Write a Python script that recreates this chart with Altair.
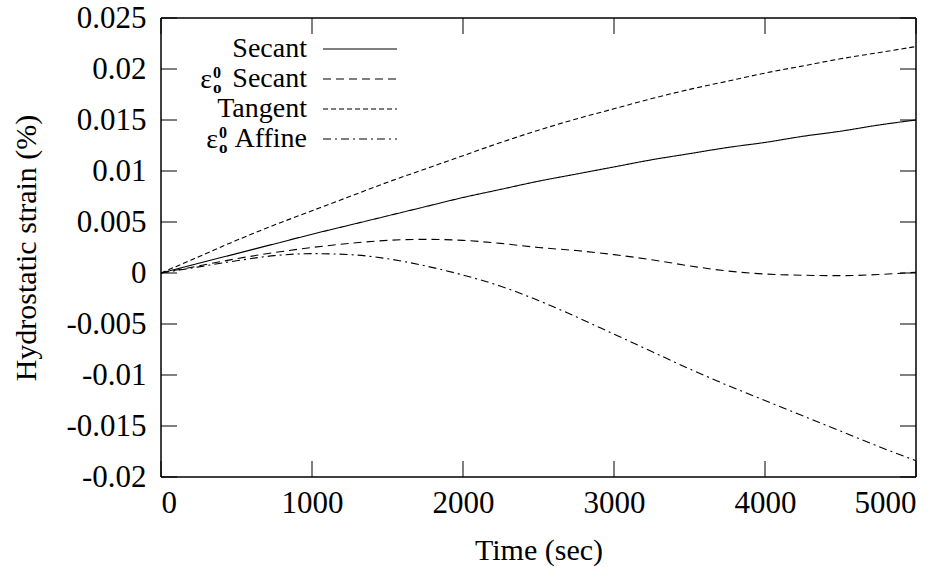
import altair as alt
import pandas as pd

# ---- data ----
time = [0, 250, 500, 750, 1000, 1250, 1500, 1750, 2000, 2250, 2500,
        2750, 3000, 3250, 3500, 3750, 4000, 4250, 4500, 4750, 5000]
secant = [0, 0.00095, 0.0019, 0.00285, 0.0038, 0.0047, 0.0056, 0.0065, 0.0074, 0.0082, 0.0090,
          0.0097, 0.0104, 0.0111, 0.0117, 0.0123, 0.0128, 0.0134, 0.0139, 0.0145, 0.0150]
eps_secant = [0, 0.0007, 0.0014, 0.0020, 0.0025, 0.0029, 0.0032, 0.0033, 0.0032, 0.0029, 0.0025,
              0.0022, 0.0018, 0.0013, 0.0007, 0.0002, -0.0001, -0.00022, -0.00026, -0.00015, 0.00007]
tangent = [0, 0.0016, 0.0032, 0.0047, 0.0061, 0.0075, 0.0089, 0.0102, 0.0115, 0.0128, 0.0140,
           0.0151, 0.0161, 0.0171, 0.0180, 0.0188, 0.0196, 0.0203, 0.0210, 0.0216, 0.0222]
eps_affine = [0, 0.0006, 0.0012, 0.0017, 0.0019, 0.0018, 0.0014, 0.0007, -0.0002, -0.0013, -0.0027,
              -0.0043, -0.0060, -0.0077, -0.0094, -0.0110, -0.0125, -0.0140, -0.0155, -0.0170, -0.0184]

series_names = ["Secant", "eps Secant", "Tangent", "eps Affine"]
series_values = [secant, eps_secant, tangent, eps_affine]
dashes = [[1, 0], [8, 5], [5, 3], [8, 4, 2, 4]]

x_ticks = [0, 1000, 2000, 3000, 4000, 5000]
y_ticks = [0.025, 0.02, 0.015, 0.01, 0.005, 0, -0.005, -0.01, -0.015, -0.02]

# ---- layout ----
W, H = 755, 459
FONT = "Liberation Serif"
TICK = 16

rows = []
for name, vals in zip(series_names, series_values):
    for t, v in zip(time, vals):
        rows.append({"series": name, "t": t, "v": v})
df = pd.DataFrame(rows)

xscale = alt.Scale(domain=[0, 5000], nice=False, zero=False)
yscale = alt.Scale(domain=[-0.02, 0.025], nice=False, zero=False)

lines = alt.Chart(df).mark_line(color="black", strokeWidth=1.1, interpolate="monotone").encode(
    x=alt.X("t:Q", scale=xscale,
            axis=alt.Axis(values=x_ticks, title="Time (sec)", domain=False, ticks=False, grid=False,
                          labelExpr="datum.value + ''", labelFont=FONT, titleFont=FONT,
                          labelFontSize=31, labelColor="black", labelPadding=11,
                          titleFontSize=30, titleFontWeight="normal", titleColor="black",
                          titleY=73, titleBaseline="middle")),
    y=alt.Y("v:Q", scale=yscale,
            axis=alt.Axis(values=y_ticks, title="Hydrostatic strain (%)", domain=False, ticks=False,
                          grid=False, labelExpr="datum.value + ''", labelFont=FONT, titleFont=FONT,
                          labelFontSize=31, labelColor="black", labelPadding=15,
                          titleFontSize=30, titleFontWeight="normal", titleColor="black",
                          titleX=-135, titleY=H / 2, titleBaseline="middle")),
    strokeDash=alt.StrokeDash("series:N", scale=alt.Scale(domain=series_names, range=dashes), legend=None),
    detail="series:N",
)

xt = pd.DataFrame({"t": x_ticks})
yt = pd.DataFrame({"v": y_ticks})
tick_style = dict(color="black", strokeWidth=1)
ticks = [
    alt.Chart(xt).mark_rule(**tick_style).encode(x=alt.X("t:Q", scale=xscale), y=alt.value(H), y2=alt.value(H - TICK)),
    alt.Chart(xt).mark_rule(**tick_style).encode(x=alt.X("t:Q", scale=xscale), y=alt.value(0), y2=alt.value(TICK)),
    alt.Chart(yt).mark_rule(**tick_style).encode(y=alt.Y("v:Q", scale=yscale), x=alt.value(0), x2=alt.value(TICK)),
    alt.Chart(yt).mark_rule(**tick_style).encode(y=alt.Y("v:Q", scale=yscale), x=alt.value(W - TICK), x2=alt.value(W)),
]

# ---- plot frame drawn with rules ----
one = pd.DataFrame({"a": [0]})
frame_style = dict(color="black", strokeWidth=1.5)
frame = [
    alt.Chart(one).mark_rule(**frame_style).encode(x=alt.value(0), x2=alt.value(W), y=alt.value(0)),
    alt.Chart(one).mark_rule(**frame_style).encode(x=alt.value(0), x2=alt.value(W), y=alt.value(H)),
    alt.Chart(one).mark_rule(**frame_style).encode(y=alt.value(0), y2=alt.value(H), x=alt.value(0)),
    alt.Chart(one).mark_rule(**frame_style).encode(y=alt.value(0), y2=alt.value(H), x=alt.value(W)),
]

# ---- custom legend (text on the left, line sample on the right) ----
legend_words = ["Secant", "Secant", "Tangent", "Affine"]
has_eps = [False, True, False, True]
eps_x = [0, 51, 0, 57]
row_y0, row_gap = 31, 30
text_right, line_x1, line_x2 = 146, 162, 236
legend_layers = []
for i, word in enumerate(legend_words):
    ry = row_y0 + i * row_gap
    legend_layers.append(
        alt.Chart(one).mark_text(text=word, align="right", baseline="middle", font=FONT,
                                 fontSize=28).encode(x=alt.value(text_right), y=alt.value(ry)))
    legend_layers.append(
        alt.Chart(one).mark_rule(color="black", strokeWidth=1.1, strokeDash=dashes[i]).encode(
            x=alt.value(line_x1), x2=alt.value(line_x2), y=alt.value(ry)))
    if has_eps[i]:
        ex = eps_x[i]
        legend_layers.append(
            alt.Chart(one).mark_text(text="ε", align="right", baseline="middle", font=FONT,
                                     fontSize=28).encode(x=alt.value(ex), y=alt.value(ry + 1)))
        legend_layers.append(
            alt.Chart(one).mark_text(text="0", align="left", baseline="middle", font=FONT,
                                     fontSize=16, fontWeight="bold").encode(
                x=alt.value(ex + 1), y=alt.value(ry - 6)))
        legend_layers.append(
            alt.Chart(one).mark_text(text="o", align="left", baseline="middle", font=FONT,
                                     fontSize=17, fontWeight="bold").encode(
                x=alt.value(ex + 1), y=alt.value(ry + 9)))

chart = alt.layer(lines, *ticks, *frame, *legend_layers).properties(
    width=W, height=H,
    padding={"left": 10, "top": 2, "right": 5, "bottom": 5},
).configure_view(strokeWidth=0)

chart.save("out.html", embed_options={"renderer": "svg", "actions": False})
